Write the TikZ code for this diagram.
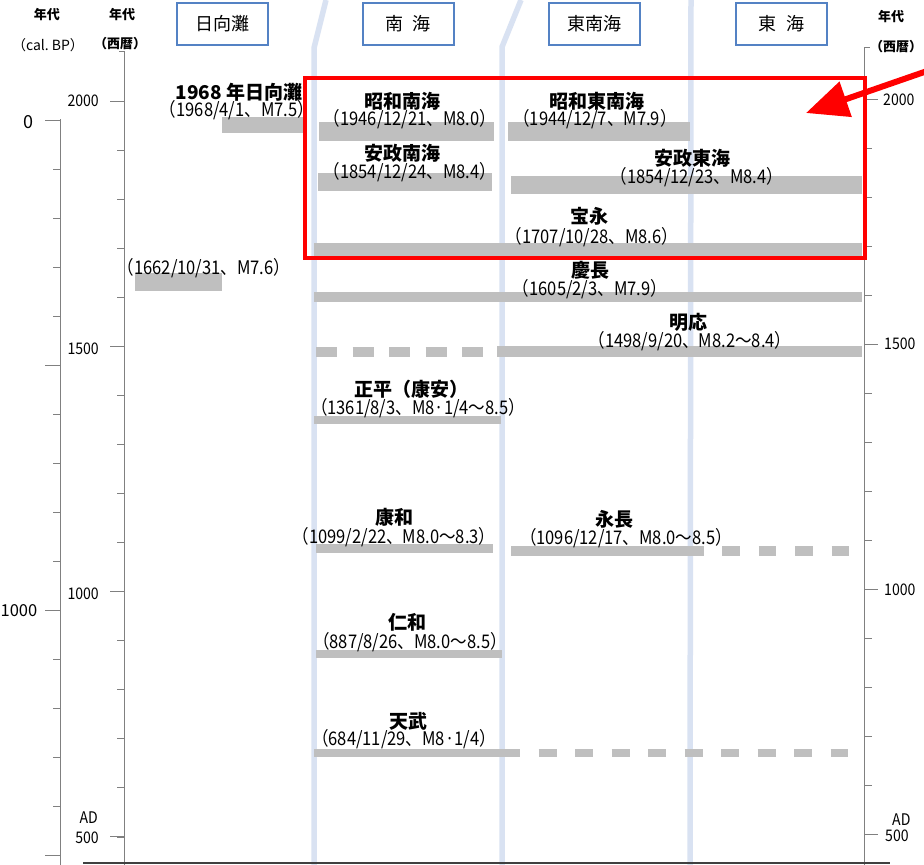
\documentclass[tikz,border=0pt]{standalone}
\usepackage{fontspec}
\setmainfont{Noto Sans CJK JP}
\newfontfamily\jpd[FakeStretch=0.88]{Noto Sans CJK JP}
\usetikzlibrary{arrows.meta}
\definecolor{barg}{RGB}{191,191,191}
\definecolor{divb}{RGB}{217,226,242}
\definecolor{hdrb}{RGB}{84,130,196}
\definecolor{axg}{RGB}{128,128,128}
\definecolor{redx}{RGB}{255,0,0}
\begin{document}
\begin{tikzpicture}[x=1pt,y=-1pt,
  namelbl/.style={inner sep=0pt, font=\fontsize{19}{19}\selectfont\bfseries},
  datelbl/.style={inner sep=0pt, font=\jpd\fontsize{18.8}{18.8}\selectfont},
  axlbl/.style={inner sep=0pt, font=\jpd\fontsize{16}{16}\selectfont},
  hdrlbl/.style={inner sep=0pt, font=\fontsize{13}{13}\selectfont\bfseries},
  hdrbox/.style={draw=hdrb, line width=2pt, fill=white, minimum width=91pt, minimum height=42pt, inner sep=0pt, font=\fontsize{18}{18}\selectfont},
  divider/.style={draw=divb, line width=5.5pt},
  barfill/.style={fill=barg, draw=none},
  dbar/.style={draw=barg},
  axisline/.style={draw=axg, line width=1pt},
  redbox/.style={draw=redx, line width=4pt},
  redarrow/.style={draw=redx, line width=6pt, -{Triangle[length=42pt,width=36pt]}}
]
\useasboundingbox (0,0) rectangle (924,865);
\fill[white] (0,0) rectangle (924,865);

% column dividers
\draw[divider] (326,0) -- (314,48) -- (314,865);
\draw[divider] (521,0) -- (502,47) -- (502,865);
\draw[divider] (691,0) -- (690,865);

% solid bars
\fill[barfill] (222,117) rectangle (306,133);   % 1968 Hyuganada
\fill[barfill] (319,122) rectangle (494,141);   % Showa Nankai
\fill[barfill] (508,122) rectangle (690,141);   % Showa Tonankai
\fill[barfill] (318,173) rectangle (492,191);   % Ansei Nankai
\fill[barfill] (511,176) rectangle (862,194);   % Ansei Tokai
\fill[barfill] (314,243) rectangle (862,256);   % Hoei
\fill[barfill] (135,273) rectangle (222,291);   % 1662
\fill[barfill] (314,292) rectangle (862,302);   % Keicho
\fill[barfill] (497,346) rectangle (862,357);   % Meio
\fill[barfill] (314,416) rectangle (501,424);   % Shohei
\fill[barfill] (316,544) rectangle (493,553);   % Kowa
\fill[barfill] (511,546) rectangle (686,556);   % Eicho
\fill[barfill] (316,650) rectangle (502,658);   % Ninna
\fill[barfill] (314,749) rectangle (502,757);   % Tenmu

% dashed bars
\draw[dbar, line width=10pt, dash pattern=on 21pt off 15.5pt] (316,351.5) -- (483,351.5);
\draw[dbar, line width=10pt, dash pattern=on 17.5pt off 18.9pt] (686,551) -- (849,551);
\draw[dbar, line width=8pt, dash pattern=on 18pt off 18.5pt] (502,753) -- (848,753);

% labels
\node[namelbl] (n1968) at (239,92) {1968 年日向灘};
\node[datelbl] (d1968) at (237,110) {（1968/4/1、M7.5）};
\node[namelbl] (nSN) at (402,101) {昭和南海};
\node[datelbl] (dSN) at (410,119) {（1946/12/21、M8.0）};
\node[namelbl] (nST) at (597,101) {昭和東南海};
\node[datelbl] (dST) at (595,119) {（1944/12/7、M7.9）};
\node[namelbl] (nAN) at (402,153) {安政南海};
\node[datelbl] (dAN) at (410,172) {（1854/12/24、M8.4）};
\node[namelbl] (nAT) at (692,158) {安政東海};
\node[datelbl] (dAT) at (697,177) {（1854/12/23、M8.4）};
\node[namelbl] (nHo) at (589,216) {宝永};
\node[datelbl] (dHo) at (592,237) {（1707/10/28、M8.6）};
\node[datelbl] (d1662) at (204,268) {（1662/10/31、M7.6）};
\node[namelbl] (nKe) at (590,270) {慶長};
\node[datelbl] (dKe) at (590,289) {（1605/2/3、M7.9）};
\node[namelbl] (nMe) at (688,322) {明応};
\node[datelbl] (dMe) at (690,341) {（1498/9/20、M8.2～8.4）};
\node[namelbl] (nSh) at (411,389) {正平（康安）};
\node[datelbl] (dSh) at (418,408) {（1361/8/3、M8·1/4～8.5）};
\node[namelbl] (nKo) at (394,517) {康和};
\node[datelbl] (dKo) at (394,537) {（1099/2/22、M8.0～8.3）};
\node[namelbl] (nEi) at (614,519) {永長};
\node[datelbl] (dEi) at (626,538) {（1096/12/17、M8.0～8.5）};
\node[namelbl] (nNi) at (407,622) {仁和};
\node[datelbl] (dNi) at (410,642) {（887/8/26、M8.0～8.5）};
\node[namelbl] (nTe) at (408,721) {天武};
\node[datelbl] (dTe) at (404,739) {（684/11/29、M8·1/4）};

% left cal BP axis
\draw[axisline] (60,119) -- (60,865);
\foreach \k in {0,...,15} {
  \pgfmathsetmacro{\yy}{120+49*\k}
  \draw[axisline] (53,\yy) -- (60,\yy);
}
\foreach \k in {0,1,2,3} {
  \pgfmathsetmacro{\yy}{120+245*\k}
  \draw[axisline] (45,\yy) -- (60,\yy);
}
\node[inner sep=0pt, anchor=east, font=\fontsize{18}{18}\selectfont] (bp0) at (34,122) {0};
\node[inner sep=0pt, anchor=east, font=\fontsize{16.5}{16.5}\selectfont] (bp1000) at (37.5,611) {1000};

% AD axis (left)
\draw[axisline] (124,51) -- (124,865);
\draw[axisline] (119,51) -- (124,51);
\foreach \k in {0,...,15} {
  \pgfmathsetmacro{\yy}{101+49.07*\k}
  \draw[axisline] (117,\yy) -- (124,\yy);
}
\foreach \k in {0,1,2,3} {
  \pgfmathsetmacro{\yy}{101+245.3*\k}
  \draw[axisline] (110,\yy) -- (124,\yy);
}
\node[axlbl, anchor=east] (l2000) at (99,101) {2000};
\node[axlbl, anchor=east] (l1500) at (99,349) {1500};
\node[axlbl, anchor=east] (l1000) at (99,594) {1000};
\node[axlbl, anchor=east] (lAD) at (98,818) {AD};
\node[axlbl, anchor=east] (l500) at (99,838) {500};

% right AD axis
\draw[axisline] (864,47) -- (864,865);
\draw[axisline] (864,47) -- (870,47);
\foreach \k in {0,...,15} {
  \pgfmathsetmacro{\yy}{99.5+49*\k}
  \draw[axisline] (864,\yy) -- (872,\yy);
}
\foreach \k in {0,1,2,3} {
  \pgfmathsetmacro{\yy}{99.5+245*\k}
  \draw[axisline] (864,\yy) -- (878,\yy);
}
\node[axlbl, anchor=west] (r2000) at (883,100) {2000};
\node[axlbl, anchor=west] (r1500) at (884,344) {1500};
\node[axlbl, anchor=west] (r1000) at (884,590) {1000};
\node[axlbl, anchor=west] (rAD) at (892,820) {AD};
\node[axlbl, anchor=west] (r500) at (885,836) {500};

% headers
\node[hdrlbl] (hy1) at (47,15) {年代};
\node[inner sep=0pt, font=\fontsize{14}{14}\selectfont] (hc1) at (48,45) {（cal.\ BP）};
\node[hdrlbl] (hy2) at (122,15) {年代};
\node[inner sep=0pt, font=\fontsize{13}{13}\selectfont\bfseries] (hc2) at (120,44) {（西暦）};
\node[hdrlbl] (hy3) at (891,17) {年代};
\node[inner sep=0pt, font=\fontsize{13}{13}\selectfont\bfseries] (hc3) at (896,47) {（西暦）};

\node[hdrbox] (bH) at (222,24) {日向灘};
\node[hdrbox] (bN) at (408,24) {南 \kern5pt 海};
\node[hdrbox] (bT) at (594.5,24) {東南海};
\node[hdrbox] (bE) at (781.5,24) {東 \kern5pt 海};

% bottom line
\draw[draw=black!75, line width=1.5pt] (83,863) -- (890,863);

% red highlight
\draw[redbox] (305,78) rectangle (865,257.5);
\coordinate (arrS) at (930,70);
\coordinate (arrT) at (806,113);
\draw[redarrow] (arrS) -- (arrT);
\end{tikzpicture}
\end{document}
